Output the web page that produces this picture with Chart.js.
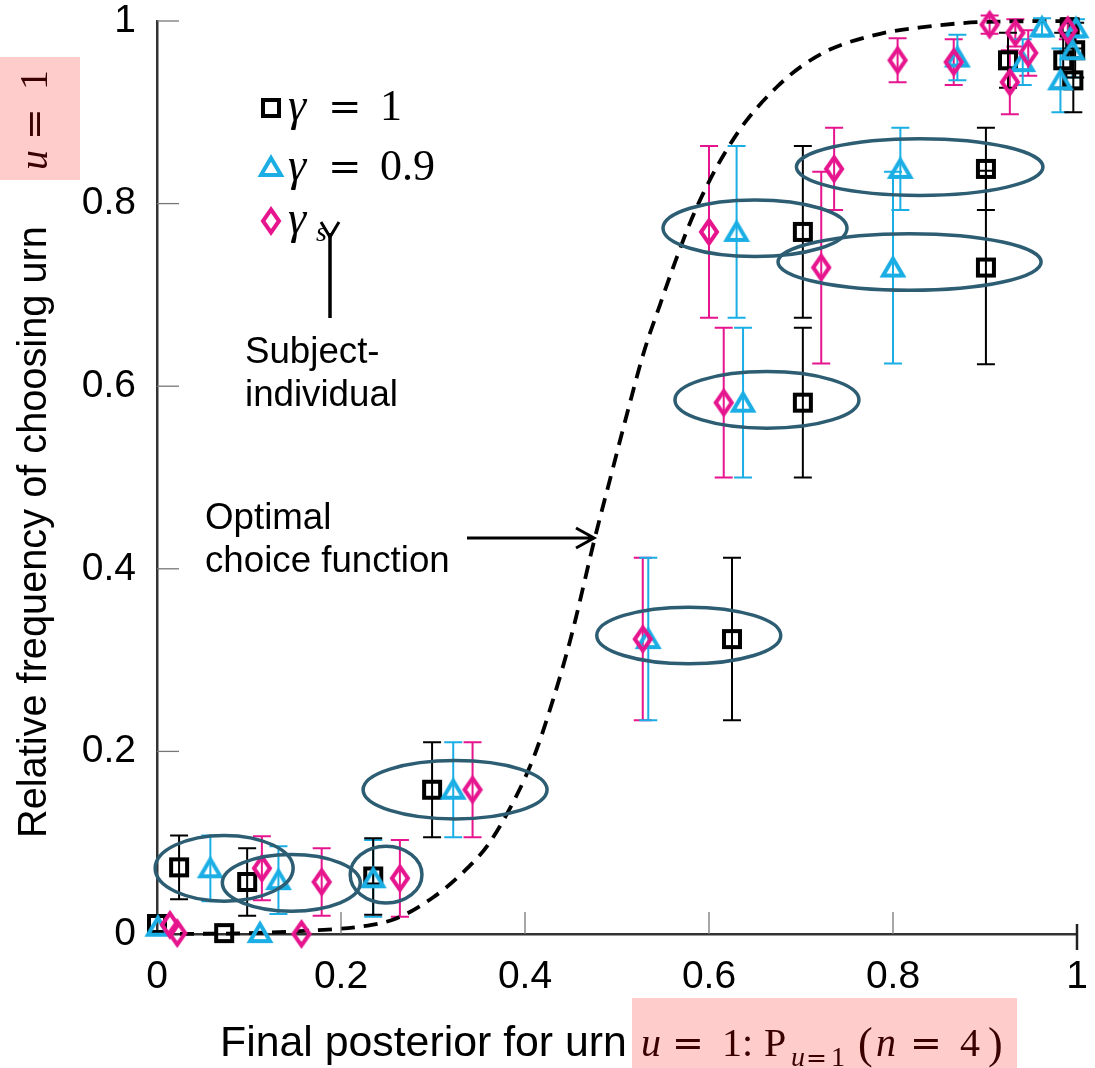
<!DOCTYPE html>
<html>
<head>
<meta charset="utf-8">
<script src="https://cdn.jsdelivr.net/npm/chart.js@4.4.1/dist/chart.umd.min.js"></script>
<style>
  html, body { margin: 0; padding: 0; background: #fff; }
  #wrap { width: 1095px; height: 1068px; position: relative; }
</style>
</head>
<body>
<div id="wrap"><canvas id="mainChart" width="1095" height="1068"></canvas></div>
<script>
(function () {
  // axis ticks
  var tickValues = [0, 0.2, 0.4, 0.6, 0.8, 1];
  var tickLabels = ['0', '0.2', '0.4', '0.6', '0.8', '1'];

  // optimal choice function
  var curveX = [0, 0.1, 0.17, 0.22, 0.26, 0.3, 0.33, 0.36, 0.39, 0.41, 0.43, 0.45, 0.476, 0.495, 0.512, 0.53, 0.547, 0.561, 0.579, 0.601, 0.62, 0.64, 0.674, 0.7, 0.732, 0.786, 0.83, 0.9, 1];
  var curveY = [0, 0.001, 0.004, 0.008, 0.017, 0.04, 0.065, 0.098, 0.15, 0.195, 0.255, 0.325, 0.434, 0.508, 0.574, 0.64, 0.69, 0.73, 0.778, 0.826, 0.86, 0.89, 0.928, 0.95, 0.969, 0.986, 0.993, 0.999, 1];

  // gamma = 1 (black squares)
  var g1X   = [0.0, 0.073, 0.024, 0.098, 0.235, 0.299, 0.625, 0.702, 0.702, 0.901, 0.901, 0.925, 0.985, 0.996, 0.992, 0.998];
  var g1Y   = [0.011, 0.001, 0.073, 0.057, 0.063, 0.158, 0.323, 0.582, 0.769, 0.838, 0.73, 0.957, 0.957, 0.935, 0.993, 0.968];
  var g1Err = [0, 0, 0.035, 0.037, 0.042, 0.052, 0.089, 0.082, 0.094, 0.045, 0.106, 0.03, 0.03, 0.035, 0.01, 0.03];

  // gamma = 0.9 (blue triangles)
  var g09X   = [0.001, 0.112, 0.058, 0.132, 0.235, 0.322, 0.534, 0.637, 0.63, 0.808, 0.8, 0.87, 0.941, 0.962, 0.982, 0.995, 0.999];
  var g09Y   = [0.008, 0.001, 0.072, 0.059, 0.061, 0.158, 0.323, 0.582, 0.769, 0.838, 0.73, 0.96, 0.955, 0.993, 0.935, 0.968, 0.992];
  var g09Err = [0, 0, 0.036, 0.037, 0.042, 0.052, 0.089, 0.082, 0.094, 0.045, 0.105, 0.025, 0.025, 0.01, 0.035, 0.03, 0.01];

  // gamma_s, subject-individual (pink diamonds)
  var gsX   = [0.014, 0.022, 0.157, 0.114, 0.179, 0.264, 0.343, 0.528, 0.616, 0.6, 0.736, 0.722, 0.805, 0.866, 0.905, 0.933, 0.947, 0.927, 0.99];
  var gsY   = [0.01, 0.001, 0.0, 0.072, 0.057, 0.061, 0.158, 0.323, 0.582, 0.769, 0.838, 0.73, 0.957, 0.955, 0.996, 0.987, 0.965, 0.933, 0.99];
  var gsErr = [0, 0, 0, 0.035, 0.037, 0.042, 0.052, 0.089, 0.082, 0.094, 0.045, 0.105, 0.024, 0.025, 0.01, 0.015, 0.025, 0.035, 0.01];

  // highlighted groups (ellipses, in data units)
  var ringCx = [0.073, 0.146, 0.249, 0.324, 0.578, 0.65, 0.663, 0.829, 0.818];
  var ringCy = [0.072, 0.056, 0.065, 0.158, 0.327, 0.773, 0.585, 0.84, 0.736];
  var ringRx = [0.075, 0.075, 0.039, 0.1, 0.1, 0.1, 0.1, 0.134, 0.143];
  var ringRy = [0.036, 0.031, 0.031, 0.032, 0.031, 0.031, 0.031, 0.031, 0.031];

  var BLACK = '#000000', BLUE = '#1aaee5', PINK = '#e6158e', RING = '#2c5d72';
  var SANS = "'Liberation Sans', Arial, sans-serif";
  var SERIF = "'Liberation Serif', 'Times New Roman', serif";
  var EQ = "'DejaVu Serif', serif";

  function makeMarker(kind, color) {
    var c = document.createElement('canvas');
    c.width = 28; c.height = 32;
    var g = c.getContext('2d');
    var cx = 14, cy = 16;
    g.strokeStyle = color;
    g.lineWidth = 4;
    g.beginPath();
    if (kind === 'square') {
      g.rect(cx - 8, cy - 8, 16, 16);
    } else if (kind === 'triangle') {
      g.moveTo(cx, cy - 9); g.lineTo(cx + 10, cy + 8); g.lineTo(cx - 10, cy + 8); g.closePath();
    } else {
      g.moveTo(cx, cy - 11.5); g.lineTo(cx + 8, cy); g.lineTo(cx, cy + 11.5); g.lineTo(cx - 8, cy); g.closePath();
    }
    g.stroke();
    return c;
  }

  var mSquare = makeMarker('square', BLACK);
  var mTri = makeMarker('triangle', BLUE);
  var mDia = makeMarker('diamond', PINK);

  function pts(xs, ys) {
    return xs.map(function (x, i) { return { x: x, y: ys[i] }; });
  }

  var series = [
    { x: gsX, y: gsY, err: gsErr, color: PINK },
    { x: g09X, y: g09Y, err: g09Err, color: BLUE },
    { x: g1X, y: g1Y, err: g1Err, color: BLACK }
  ];

  function fitSize(ctx, text, style, family, target) {
    ctx.font = style + ' 100px ' + family;
    return 100 * target / ctx.measureText(text).width;
  }

  // draw pieces of math text at given x positions
  function runs(ctx, list) {
    list.forEach(function (r) {
      ctx.font = r[0];
      ctx.fillText(r[1], r[2], r[3]);
    });
  }

  function noPad(s) {
    s.paddingTop = 0; s.paddingBottom = 0; s.paddingLeft = 0; s.paddingRight = 0;
  }

  var overlay = {
    id: 'overlay',
    beforeDatasetsDraw: function (chart) {
      var ctx = chart.ctx, xs = chart.scales.x, ys = chart.scales.y;
      ctx.save();
      ctx.lineWidth = 2;
      series.forEach(function (s) {
        ctx.strokeStyle = s.color;
        s.x.forEach(function (xv, i) {
          var e = s.err[i];
          if (!e) return;
          var px = xs.getPixelForValue(xv);
          var top = ys.getPixelForValue(s.y[i] + e);
          var bot = ys.getPixelForValue(s.y[i] - e);
          ctx.beginPath();
          ctx.moveTo(px, top); ctx.lineTo(px, bot);
          ctx.moveTo(px - 9, top); ctx.lineTo(px + 9, top);
          ctx.moveTo(px - 9, bot); ctx.lineTo(px + 9, bot);
          ctx.stroke();
        });
      });
      ctx.restore();
    },
    afterDatasetsDraw: function (chart) {
      var ctx = chart.ctx, xs = chart.scales.x, ys = chart.scales.y;
      var a = chart.chartArea;
      ctx.save();
      // inward ticks
      ctx.strokeStyle = '#777';
      ctx.lineWidth = 1.3;
      tickValues.forEach(function (v) {
        var py = ys.getPixelForValue(v);
        var px = xs.getPixelForValue(v);
        if (v > 0) {
          ctx.beginPath();
          ctx.moveTo(a.left, py); ctx.lineTo(a.left + 22, py);
          ctx.stroke();
        }
        if (v > 0 && v < 1) {
          ctx.beginPath();
          ctx.moveTo(px, a.bottom); ctx.lineTo(px, a.bottom - 22);
          ctx.stroke();
        }
      });
      ctx.strokeStyle = '#222';
      ctx.lineWidth = 2.5;
      ctx.beginPath();
      ctx.moveTo(a.right, a.bottom - 10); ctx.lineTo(a.right, a.bottom + 16);
      ctx.stroke();

      // ellipses
      ctx.strokeStyle = RING;
      ctx.lineWidth = 3.5;
      ringCx.forEach(function (cx, i) {
        var px = xs.getPixelForValue(cx);
        var py = ys.getPixelForValue(ringCy[i]);
        var rx = xs.getPixelForValue(cx + ringRx[i]) - px;
        var ry = py - ys.getPixelForValue(ringCy[i] + ringRy[i]);
        ctx.beginPath();
        ctx.ellipse(px, py, rx, ry, 0, 0, Math.PI * 2);
        ctx.stroke();
      });
      ctx.restore();
    },
    afterDraw: function (chart) {
      var ctx = chart.ctx;
      ctx.save();
      ctx.textBaseline = 'alphabetic';
      ctx.textAlign = 'left';

      // y title with pink math box
      ctx.fillStyle = '#ffcccc';
      ctx.fillRect(0, 57, 80, 123);
      ctx.save();
      ctx.translate(46, 838);
      ctx.rotate(-Math.PI / 2);
      ctx.fillStyle = '#000';
      var ts = fitSize(ctx, 'Relative frequency of choosing urn', '', SANS, 612);
      ctx.font = ts + 'px ' + SANS;
      ctx.fillText('Relative frequency of choosing urn', 0, 0);
      ctx.restore();
      ctx.save();
      ctx.translate(47, 170);
      ctx.rotate(-Math.PI / 2);
      ctx.fillStyle = '#3a0000';
      runs(ctx, [
        ['italic 40px ' + SERIF, 'u', 0, 0],
        ['38px ' + EQ, '=', 30, 0],
        ['40px ' + SERIF, '1', 80, 0]
      ]);
      ctx.restore();

      // x title with pink math box
      ctx.fillStyle = '#ffcccc';
      ctx.fillRect(632, 998, 385, 70);
      ctx.fillStyle = '#000';
      var xs2 = fitSize(ctx, 'Final posterior for urn', '', SANS, 407);
      ctx.font = xs2 + 'px ' + SANS;
      ctx.fillText('Final posterior for urn', 220, 1056);
      ctx.fillStyle = '#3a0000';
      runs(ctx, [
        ['italic 40px ' + SERIF, 'u', 641, 1056],
        ['38px ' + EQ, '=', 672, 1056],
        ['40px ' + SERIF, '1:', 722, 1056],
        ['40px ' + SERIF, 'P', 764, 1056],
        ['italic 28px ' + SERIF, 'u', 791, 1066],
        ['25px ' + EQ, '=', 806, 1066],
        ['28px ' + SERIF, '1', 831, 1066],
        ['44px ' + SERIF, '(', 858, 1058],
        ['italic 40px ' + SERIF, 'n', 876, 1056],
        ['38px ' + EQ, '=', 910, 1056],
        ['40px ' + SERIF, '4', 960, 1056],
        ['44px ' + SERIF, ')', 988, 1058]
      ]);

      // legend
      ctx.drawImage(mSquare, 271 - 14, 108 - 16);
      ctx.drawImage(mTri, 271 - 14, 167 - 16);
      ctx.drawImage(mDia, 271 - 14, 221 - 16);
      ctx.fillStyle = '#000';
      runs(ctx, [
        ['italic 46px ' + SERIF, '\u03b3', 288, 120],
        ['40px ' + EQ, '=', 328, 120],
        ['44px ' + SERIF, '1', 380, 120],
        ['italic 46px ' + SERIF, '\u03b3', 288, 180],
        ['40px ' + EQ, '=', 328, 180],
        ['44px ' + SERIF, '0.9', 380, 180],
        ['italic 46px ' + SERIF, '\u03b3', 288, 233],
        ['italic 28px ' + SERIF, 's', 316, 241]
      ]);

      // subject-individual pointer
      ctx.strokeStyle = '#000';
      ctx.lineWidth = 3.5;
      ctx.beginPath();
      ctx.moveTo(330, 233); ctx.lineTo(330, 318);
      ctx.stroke();
      ctx.lineWidth = 3;
      ctx.beginPath();
      ctx.moveTo(321, 222); ctx.lineTo(330, 237); ctx.lineTo(339, 222);
      ctx.stroke();

      var as = fitSize(ctx, 'individual', '', SANS, 153);
      ctx.font = as + 'px ' + SANS;
      ctx.fillText('Subject-', 245, 363);
      ctx.fillText('individual', 245, 406);
      ctx.fillText('Optimal', 205, 529);
      ctx.fillText('choice function', 205, 572);

      // arrow to the curve
      ctx.lineWidth = 3;
      ctx.beginPath();
      ctx.moveTo(467, 538); ctx.lineTo(594, 538);
      ctx.moveTo(576, 528); ctx.lineTo(594, 538); ctx.lineTo(576, 548);
      ctx.stroke();
      ctx.restore();
    }
  };

  var tickFont = { family: SANS, size: 39 };

  new Chart(document.getElementById('mainChart').getContext('2d'), {
    type: 'scatter',
    data: {
      datasets: [
        { label: 'gamma_s', data: pts(gsX, gsY), pointStyle: mDia, pointRadius: 10, clip: false, showLine: false },
        { label: 'gamma=0.9', data: pts(g09X, g09Y), pointStyle: mTri, pointRadius: 10, clip: false, showLine: false },
        { label: 'gamma=1', data: pts(g1X, g1Y), pointStyle: mSquare, pointRadius: 10, clip: false, showLine: false },
        {
          label: 'optimal', data: pts(curveX, curveY), showLine: true, pointRadius: 0,
          borderColor: '#000', borderWidth: 3.8, borderDash: [14, 9], cubicInterpolationMode: 'monotone', clip: false
        }
      ]
    },
    options: {
      responsive: false,
      animation: false,
      devicePixelRatio: 1,
      layout: { padding: { top: 21, right: 18, left: 0, bottom: 0 } },
      plugins: { legend: { display: false }, tooltip: { enabled: false } },
      scales: {
        x: {
          type: 'linear', min: 0, max: 1,
          afterBuildTicks: function (s) { s.ticks = tickValues.map(function (v) { return { value: v }; }); },
          afterFit: function (s) { s.height = 134; noPad(s); },
          grid: { display: false },
          border: { display: true, color: '#333', width: 2.5 },
          ticks: { color: '#000', font: tickFont, padding: 12, maxRotation: 0,
            callback: function (v, i) { return tickLabels[i]; } }
        },
        y: {
          type: 'linear', min: 0, max: 1,
          afterBuildTicks: function (s) { s.ticks = tickValues.map(function (v) { return { value: v }; }); },
          afterFit: function (s) { s.width = 157; noPad(s); },
          grid: { display: false },
          border: { display: true, color: '#333', width: 2.5 },
          ticks: { color: '#000', font: tickFont, padding: 13,
            callback: function (v, i) { return tickLabels[i]; } }
        }
      }
    },
    plugins: [overlay]
  });
})();
</script>
</body>
</html>
